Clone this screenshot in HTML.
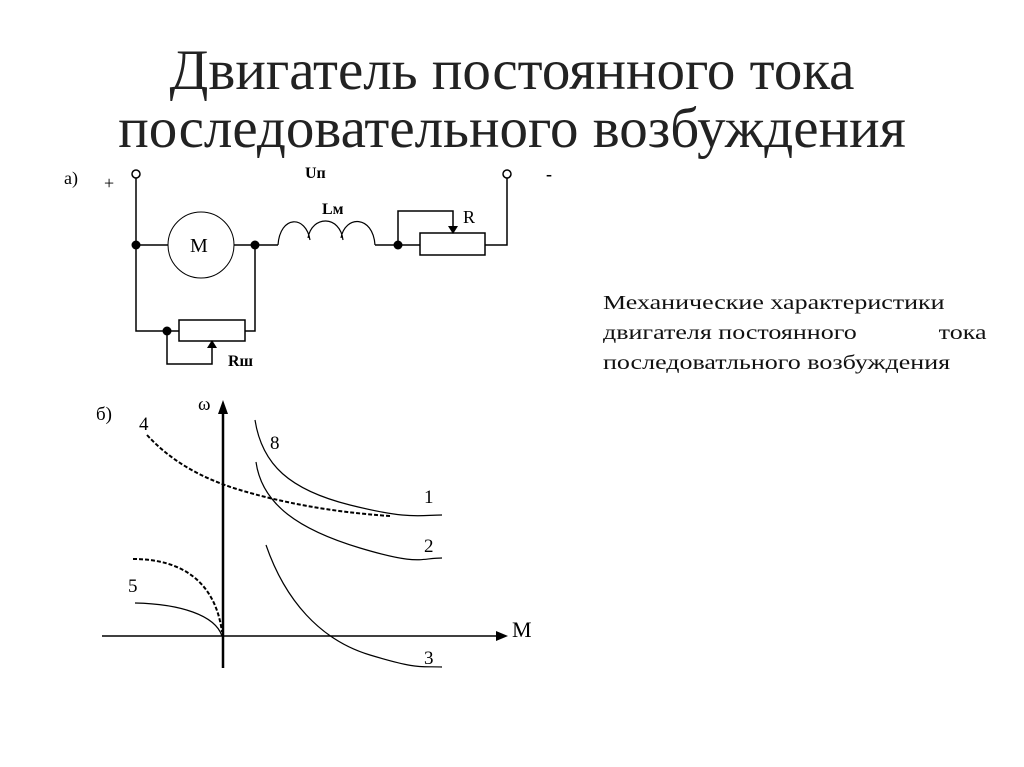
<!DOCTYPE html>
<html><head><meta charset="utf-8"><style>
body{margin:0;width:1024px;height:767px;background:#fff;overflow:hidden;font-family:"Liberation Serif","Noto Serif CJK SC",serif}
.t{position:absolute;left:0;width:1024px;text-align:center;font-size:57px;color:#222;line-height:58px}
.r{position:absolute;left:603px;width:295px;font-size:20px;line-height:30px;color:#111;transform:scaleX(1.3);transform-origin:0 0}
</style></head><body>
<div class="t" style="top:42px">Двигатель постоянного тока</div>
<div class="t" style="top:100px">последовательного возбуждения</div>
<div class="r" style="top:288px">Механические характеристики<br><span style="display:flex;justify-content:space-between"><span>двигателя постоянного</span><span>тока</span></span>последоватльного возбуждения</div>
<svg width="1024" height="767" style="position:absolute;left:0;top:0" font-family="Liberation Serif, serif">
<g fill="none" stroke="#000" stroke-width="1.5">
<circle cx="136" cy="174" r="4"/><circle cx="507" cy="174" r="4"/>
<path d="M136 178V331H179M136 245H168M234 245H278M255 245V331H245M375 245H420M485 245H507V178"/>
<circle cx="201" cy="245" r="33" stroke-width="1"/>
<path d="M278 245C280 215 306 215 310 240M308 238C312 215 340 215 343 240M341 238C345 215 373 215 375 245" stroke-width="1.2"/>
<rect x="420" y="233" width="65" height="22"/>
<path d="M398 245V211H453V228"/>
<rect x="179" y="320" width="66" height="21"/>
<path d="M167 331V364H212V346"/>
</g>
<g fill="#000"><circle cx="136" cy="245" r="4.5"/><circle cx="255" cy="245" r="4.5"/><circle cx="398" cy="245" r="4.5"/><circle cx="167" cy="331" r="4.5"/>
<path d="M448 226h10l-5 8z"/><path d="M207 348h10l-5-8z"/></g>
<g font-size="18"><text x="64" y="184">а)</text><text x="104" y="189">+</text><text x="190" y="252" font-size="20">M</text><text x="305" y="178" font-weight="bold" font-size="16">Uп</text><text x="322" y="214" font-weight="bold" font-size="16">Lм</text><text x="463" y="223">R</text><text x="228" y="366" font-weight="bold" font-size="16">Rш</text><text x="546" y="180" font-weight="bold">-</text></g>
<g fill="none" stroke="#000" stroke-width="1.2">
<path d="M223 410V668" stroke-width="2.5"/><path d="M102 636H502" stroke-width="1.5"/>
<path d="M255 420C262 465 290 490 350 505S420 515 442 515"/>
<path d="M256 462C262 505 300 530 360 548S420 558 442 558"/>
<path d="M266 545C285 600 320 640 370 655S420 666 442 667"/>
<path d="M135 603C180 604 215 615 222 636"/>
<path d="M147 435C170 460 200 478 240 490S330 512 390 516" stroke-dasharray="4 2" stroke-width="2"/>
<path d="M133 559C180 559 215 580 222 632" stroke-dasharray="4 2" stroke-width="2"/>
</g>
<path d="M223 400l-5 14h10z"/><path d="M508 636l-12-5v10z"/>
<g font-size="19"><text x="96" y="420">б)</text><text x="198" y="410">ω</text><text x="139" y="430">4</text><text x="270" y="449">8</text><text x="424" y="503">1</text><text x="424" y="552">2</text><text x="424" y="664">3</text><text x="128" y="592">5</text><text x="512" y="637" font-size="22">M</text></g>
</svg>
</body></html>
